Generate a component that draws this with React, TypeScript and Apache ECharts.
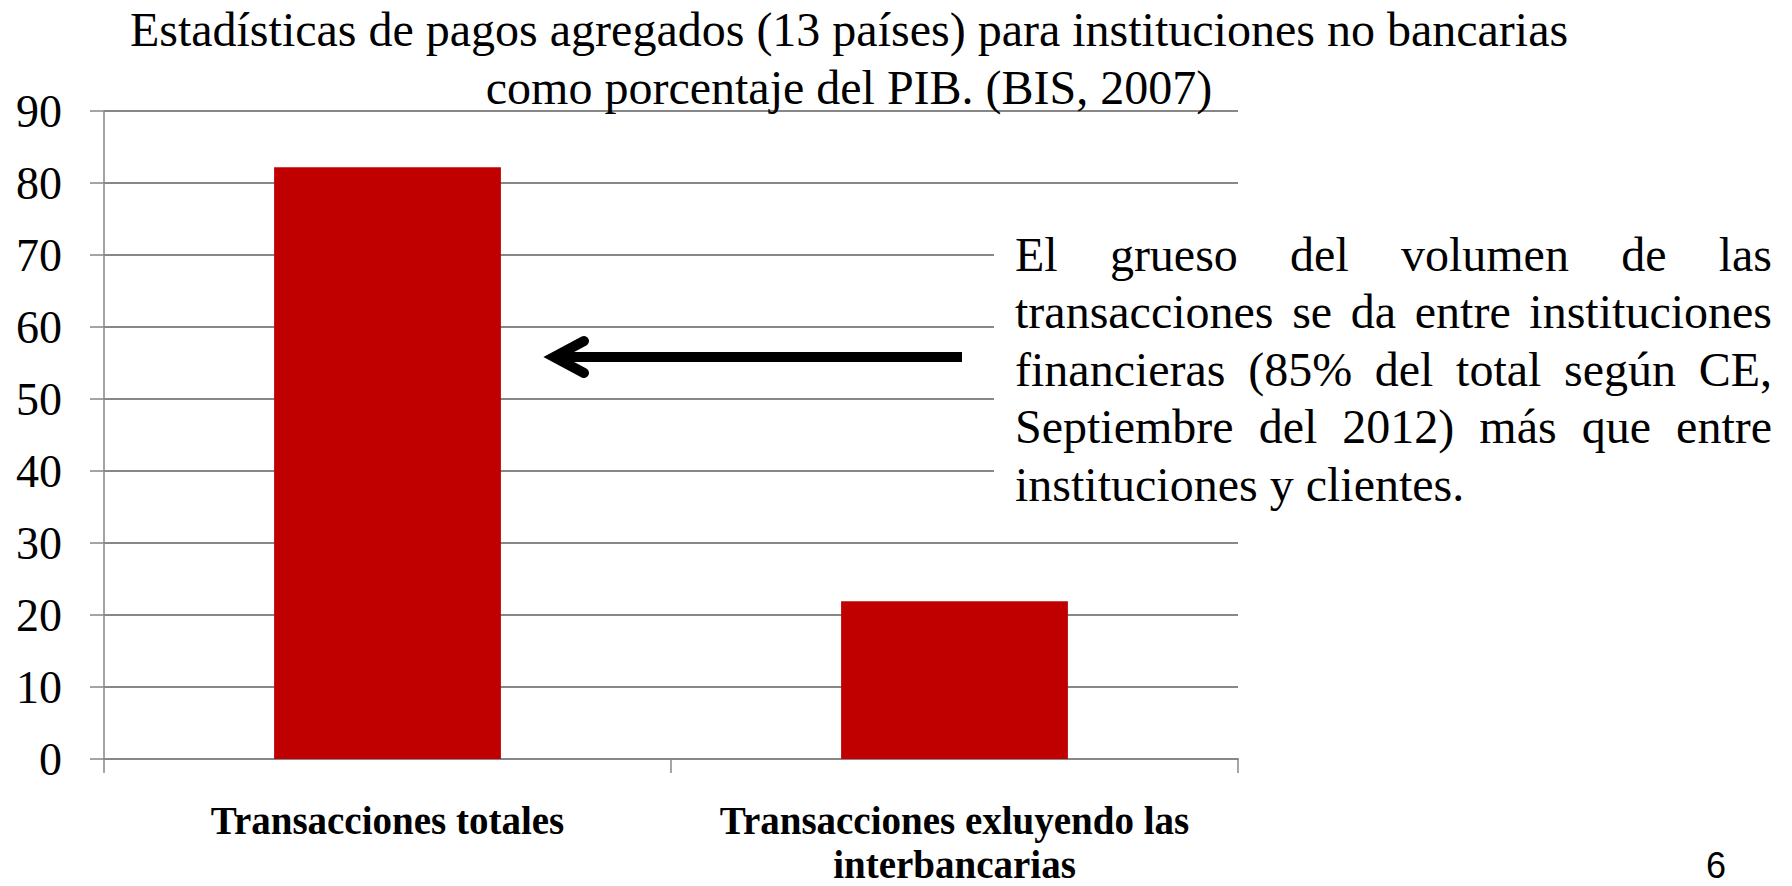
import React, { useEffect, useRef } from "react";
import * as echarts from "echarts";

const categories = ["Transacciones totales", "Transacciones exluyendo las\ninterbancarias"];
const values = [82.2, 21.9];
const yMin = 0;
const yMax = 90;
const yInterval = 10;
const titleText = "Estadísticas de pagos agregados (13 países) para instituciones no bancarias\ncomo porcentaje del PIB. (BIS, 2007)";
const noteLines = [
  "El grueso del volumen de las",
  "transacciones se da entre instituciones",
  "financieras (85% del total según CE,",
  "Septiembre del 2012) más que entre",
  "instituciones y clientes.",
];
const pageNumber = "6";

const SERIF = '"Liberation Serif", "Times New Roman", serif';

function buildNote(): any[] {
  const fontSize = 48;
  const left = 1015;
  const width = 757;
  const firstBaseline = 270;
  const lineStep = 57.5;
  const canvas = document.createElement("canvas");
  const ctx = canvas.getContext("2d")!;
  ctx.font = `${fontSize}px "Liberation Serif"`;
  const els: any[] = [];
  noteLines.forEach((line, i) => {
    const baseline = firstBaseline + i * lineStep;
    const y = baseline - 16;
    const last = i === noteLines.length - 1;
    if (last) {
      els.push({
        type: "text",
        z: 101,
        x: left,
        y,
        style: { text: line, font: `${fontSize}px ${SERIF}`, fill: "#000", align: "left", verticalAlign: "middle" },
      });
      return;
    }
    const words = line.split(" ");
    const widths = words.map((w) => ctx.measureText(w).width);
    const total = widths.reduce((a, b) => a + b, 0);
    const gap = (width - total) / (words.length - 1);
    let x = left;
    words.forEach((w, k) => {
      els.push({
        type: "text",
        z: 101,
        x,
        y,
        style: { text: w, font: `${fontSize}px ${SERIF}`, fill: "#000", align: "left", verticalAlign: "middle" },
      });
      x += widths[k] + gap;
    });
  });
  return els;
}

export default function App() {
  const ref = useRef<HTMLDivElement>(null);
  useEffect(() => {
    if (!ref.current) return;
    const chart = echarts.init(ref.current, null, { renderer: "svg" });
    const gray = "#878787";
    const option: any = {
      animation: false,
      backgroundColor: "#ffffff",
      title: {
        text: titleText,
        left: 849,
        top: 0,
        padding: 0,
        textAlign: "center",
        textStyle: {
          fontFamily: SERIF,
          fontSize: 48,
          fontWeight: "normal",
          color: "#000",
          lineHeight: 58,
        },
      },
      grid: { left: 104, right: 554, top: 111, bottom: 127, containLabel: false, outerBoundsMode: "none" },
      xAxis: {
        type: "category",
        data: categories,
        axisLine: { show: true, lineStyle: { color: gray, width: 2 } },
        axisTick: { show: true, alignWithLabel: false, length: 14, lineStyle: { color: gray, width: 1.5 } },
        axisLabel: {
          interval: 0,
          margin: 39,
          fontFamily: SERIF,
          fontSize: 39,
          fontWeight: "bold",
          color: "#000",
          lineHeight: 44,
        },
        splitLine: { show: false },
      },
      yAxis: {
        type: "value",
        min: yMin,
        max: yMax,
        interval: yInterval,
        axisLine: { show: true, lineStyle: { color: gray, width: 1.5 } },
        axisTick: { show: true, length: 14, lineStyle: { color: gray, width: 1.5 } },
        axisLabel: { margin: 42, fontFamily: SERIF, fontSize: 46, color: "#000" },
        splitLine: { show: true, lineStyle: { color: gray, width: 2 } },
      },
      series: [
        {
          type: "bar",
          data: values,
          barCategoryGap: "60%",
          itemStyle: { color: "#C00000" },
        },
      ],
      graphic: [
        { type: "rect", z: 100, shape: { x: 994, y: 200, width: 798, height: 325 }, style: { fill: "#ffffff" } },
        ...buildNote(),
        {
          type: "line",
          z: 102,
          shape: { x1: 962, y1: 357, x2: 560, y2: 357 },
          style: { stroke: "#000", lineWidth: 10, lineCap: "butt" },
        },
        {
          type: "polyline",
          z: 102,
          shape: { points: [[584, 341], [554, 357], [584, 373]] },
          style: { stroke: "#000", fill: null, lineWidth: 10, lineCap: "round", lineJoin: "miter" },
        },
        {
          type: "text",
          z: 102,
          x: 1706,
          y: 883,
          style: { text: pageNumber, font: '36px "Liberation Sans", Arial, sans-serif', fill: "#000", align: "left", verticalAlign: "bottom" },
        },
      ],
    };
    chart.setOption(option);
    return () => chart.dispose();
  }, []);
  return <div ref={ref} style={{ position: "fixed", left: 0, top: 0, width: 1792, height: 886 }} />;
}
